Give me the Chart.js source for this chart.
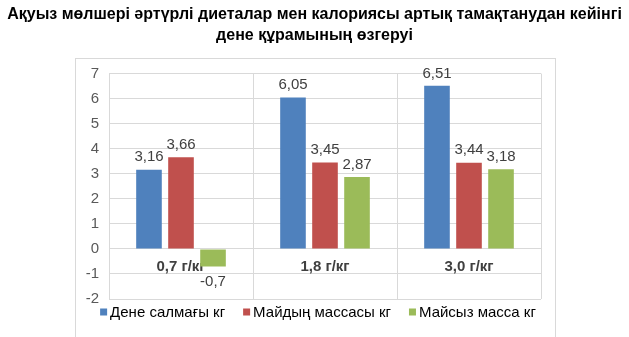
<!DOCTYPE html>
<html>
<head>
<meta charset="utf-8">
<script src="https://cdn.jsdelivr.net/npm/chart.js@4"></script>
<style>
    html, body { margin: 0; padding: 0; background: #fff; }
    #wrap { width: 629px; height: 337px; }
</style>
</head>
<body>
<div id="wrap"><canvas id="dene-kuramy"></canvas></div>
<script>
const categories = ['0,7 г/кг', '1,8 г/кг', '3,0 г/кг'];
const seriesNames = ['Дене салмағы кг', 'Майдың массасы кг', 'Майсыз масса кг'];
const deneSalmagy = [3.16, 6.05, 6.51];
const maidynMassasy = [3.66, 3.45, 3.44];
const maisyzMassa = [-0.7, 2.87, 3.18];
const colors = ['#4F81BD', '#C0504D', '#9BBB59'];

const fontName = '"Liberation Sans", Arial, sans-serif';

// light frame around the plot, as in the worksheet
const frame = {
    id: 'frame',
    beforeDraw(chart) {
        const ctx = chart.ctx;
        ctx.save();
        ctx.fillStyle = '#fff';
        ctx.fillRect(0, 0, chart.width, chart.height);
        ctx.strokeStyle = '#d9d9d9';
        ctx.lineWidth = 1;
        ctx.strokeRect(75.5, 58.5, 480, 300);
        ctx.restore();
    }
};

// value labels above (or below) each bar
const valueLabels = {
    id: 'valueLabels',
    afterDatasetsDraw(chart) {
        const ctx = chart.ctx;
        ctx.save();
        ctx.font = '15px ' + fontName;
        ctx.fillStyle = '#404040';
        ctx.textAlign = 'center';
        chart.data.datasets.forEach((ds, i) => {
            chart.getDatasetMeta(i).data.forEach((bar, j) => {
                const v = ds.data[j];
                const txt = String(v).replace('.', ',');
                if (v >= 0) {
                    ctx.textBaseline = 'bottom';
                    ctx.fillText(txt, bar.x, bar.y - 5);
                } else {
                    ctx.textBaseline = 'top';
                    ctx.fillText(txt, bar.x, bar.y + 8);
                }
            });
        });
        ctx.restore();
    }
};

// compact legend row under the plot: small square, short gap, name
const bottomLegend = {
    id: 'bottomLegend',
    afterDraw(chart) {
        const ctx = chart.ctx;
        const box = 7, gap = 3, spacing = 18, y = 312;
        ctx.save();
        ctx.font = '15px ' + fontName;
        const widths = seriesNames.map(n => ctx.measureText(n).width);
        const total = widths.reduce((s, w) => s + box + gap + w, 0) + spacing * (seriesNames.length - 1);
        let x = 318 - total / 2;
        ctx.textBaseline = 'middle';
        ctx.textAlign = 'left';
        seriesNames.forEach((name, i) => {
            ctx.fillStyle = colors[i];
            ctx.fillRect(x, y - box / 2, box, box);
            ctx.fillStyle = '#000';
            ctx.fillText(name, x + box + gap, y + 1);
            x += box + gap + widths[i] + spacing;
        });
        ctx.restore();
    }
};

const config = {
    type: 'bar',
    data: {
        labels: categories,
        datasets: [
            { label: seriesNames[0], data: deneSalmagy, backgroundColor: colors[0] },
            { label: seriesNames[1], data: maidynMassasy, backgroundColor: colors[1] },
            { label: seriesNames[2], data: maisyzMassa, backgroundColor: colors[2] }
        ]
    },
    options: {
        responsive: true,
        maintainAspectRatio: false,
        animation: false,
        categoryPercentage: 0.667,
        barPercentage: 0.8,
        layout: { padding: { left: 0, right: 0, top: 0, bottom: 38 } },
        plugins: {
            title: {
                display: true,
                text: ['Ақуыз мөлшері әртүрлі диеталар мен калориясы артық тамақтанудан кейінгі', 'дене құрамының өзгеруі'],
                color: '#000',
                font: { family: fontName, size: 16, weight: 'bold', lineHeight: 1.3 },
                padding: { top: 4, bottom: 28 }
            },
            legend: { display: false },
            tooltip: { enabled: false }
        },
        scales: {
            x: {
                position: { y: 0 },
                z: 1, // category names sit on top of the bars
                grid: { color: '#d9d9d9', offset: true, drawTicks: false },
                border: { display: false },
                ticks: {
                    color: '#404040',
                    padding: 9,
                    font: { family: fontName, size: 15, weight: 'bold' }
                }
            },
            y: {
                min: -2,
                max: 7,
                afterFit(scale) { scale.width = 109; },
                grid: { color: '#d9d9d9', drawTicks: false },
                border: { display: false },
                ticks: {
                    stepSize: 1,
                    padding: 10,
                    color: '#595959',
                    font: { family: fontName, size: 15 }
                }
            },
            // empty right-hand axis, only keeps the margin to the right of the plot
            margin: {
                type: 'linear',
                position: 'right',
                afterFit(scale) { scale.width = 88; },
                grid: { display: false },
                border: { display: false },
                ticks: { display: false }
            }
        }
    },
    plugins: [frame, valueLabels, bottomLegend]
};

const ctx = document.getElementById('dene-kuramy').getContext('2d');
window.myBar = new Chart(ctx, config);
</script>
</body>
</html>
